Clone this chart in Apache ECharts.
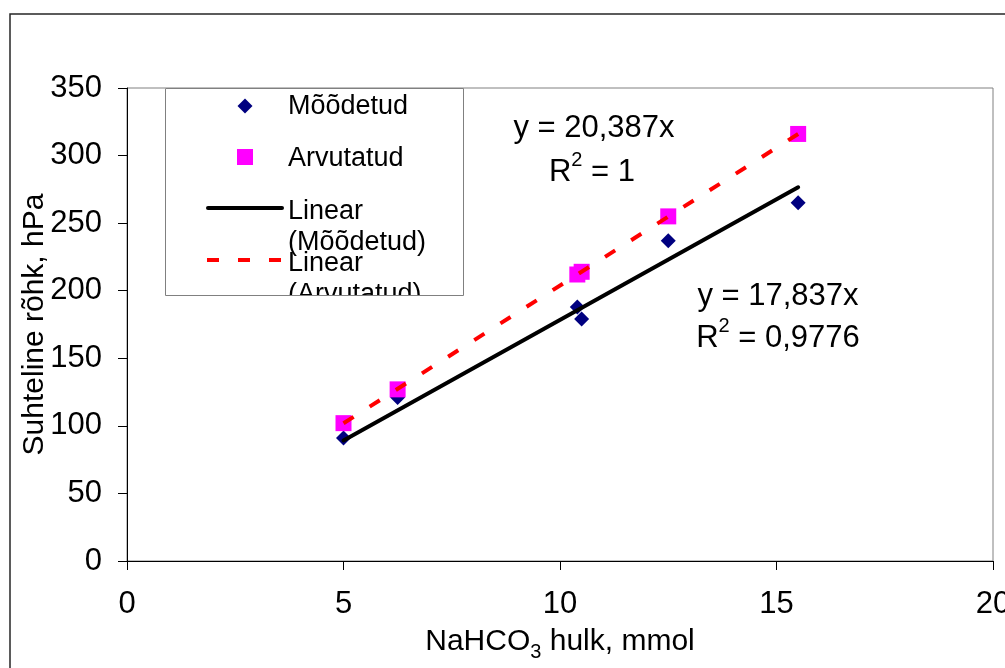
<!DOCTYPE html>
<html>
<head>
<meta charset="utf-8">
<script src="https://cdn.jsdelivr.net/npm/echarts@6/dist/echarts.min.js"></script>
<style>html,body{margin:0;padding:0;background:#fff}#c{width:1005px;height:668px}</style>
</head>
<body>
<div id="c"></div>
<script>
// ---- data ----
var xMeasured = [5, 6.25, 10.4, 10.5, 12.5, 15.5];
var yMeasured = [91, 121, 188, 179, 237, 265];
var xCalculated = [5, 6.25, 10.4, 10.5, 12.5, 15.5];
var yCalculated = [102, 127, 212, 214, 255, 316];
var trendMeasured = [[5, 89.2], [15.5, 276.5]];
var trendCalculated = [[5, 101.9], [15.5, 316.0]];
var seriesNames = ['Mõõdetud', 'Arvutatud', 'Linear (Mõõdetud)', 'Linear (Arvutatud)'];
var legendLines = [['Mõõdetud'], ['Arvutatud'], ['Linear', '(Mõõdetud)'], ['Linear', '(Arvutatud)']];
var xTicks = [0, 5, 10, 15, 20];
var yTicks = [0, 50, 100, 150, 200, 250, 300, 350];
var xTitle = ['NaHCO', '3', ' hulk, mmol'];
var yTitle = 'Suhteline rõhk, hPa';
var eqCalc = ['y = 20,387x', 'R', '2', ' = 1'];
var eqMeas = ['y = 17,837x', 'R', '2', ' = 0,9776'];

function pairs(xs, ys) { return xs.map(function (x, i) { return [x, ys[i]]; }); }

var FONT = '"Liberation Sans", Arial, sans-serif';
var chart = echarts.init(document.getElementById('c'), null, { renderer: 'canvas' });

var LX = 165, LY = 88, LW = 298, LH = 207;
var legendGraphics = [
  { type: 'rect', z: 100, shape: { x: LX, y: LY, width: LW, height: LH }, style: { fill: '#fff', stroke: null } },
  { type: 'polygon', z: 101, shape: { points: [[245, 98.5], [252.5, 106], [245, 113.5], [237.5, 106]] }, style: { fill: '#000080' } },
  { type: 'rect', z: 101, shape: { x: 237, y: 149, width: 16, height: 16 }, style: { fill: '#FF00FF' } },
  { type: 'line', z: 101, shape: { x1: 208, y1: 208, x2: 282, y2: 208 }, style: { stroke: '#000', lineWidth: 4, lineCap: 'round' } },
  { type: 'line', z: 101, shape: { x1: 207, y1: 260, x2: 283, y2: 260 }, style: { stroke: '#FF0000', lineWidth: 4, lineDash: [12, 19] } },
  { type: 'text', z: 101, style: { x: 288, y: 107, text: legendLines[0].join('\n'), font: '27px ' + FONT, fill: '#000', verticalAlign: 'middle' } },
  { type: 'text', z: 101, style: { x: 288, y: 159, text: legendLines[1].join('\n'), font: '27px ' + FONT, fill: '#000', verticalAlign: 'middle' } },
  { type: 'text', z: 101, style: { x: 288, y: 196, text: legendLines[2].join('\n'), font: '27px ' + FONT, lineHeight: 31, fill: '#000', verticalAlign: 'top' } },
  { type: 'text', z: 101, style: { x: 288, y: 248, text: legendLines[3].join('\n'), font: '27px ' + FONT, lineHeight: 31, fill: '#000', verticalAlign: 'top' } },
  { type: 'rect', z: 102, shape: { x: LX - 1, y: LY + LH + 1, width: LW + 2, height: 30 }, style: { fill: '#fff' } },
  { type: 'rect', z: 103, shape: { x: LX + 0.5, y: LY + 0.5, width: LW, height: LH }, style: { fill: null, stroke: '#808080', lineWidth: 1 } }
];

function eqText(cx, cy, parts) {
  return {
    type: 'text', z: 50,
    style: {
      x: cx, y: cy, align: 'center', verticalAlign: 'middle',
      text: '{a|' + parts[0] + '}',
      rich: { a: { fontSize: 31, fontFamily: FONT, fill: '#000' } }
    }
  };
}
function eqR2(cx, cy, parts) {
  return {
    type: 'text', z: 50,
    style: {
      x: cx, y: cy, align: 'center', verticalAlign: 'middle',
      text: '{a|' + parts[1] + '}{s|' + parts[2] + '}{a|' + parts[3] + '}',
      rich: {
        a: { fontSize: 31, lineHeight: 44, fontFamily: FONT, fill: '#000' },
        s: { fontSize: 20, lineHeight: 20, verticalAlign: 'top', fontFamily: FONT, fill: '#000' }
      }
    }
  };
}

var option = {
  animation: false,
  backgroundColor: '#fff',
  textStyle: { fontFamily: FONT, color: '#000' },
  grid: { left: 127, top: 88, width: 866, height: 473, show: true, borderColor: '#808080', borderWidth: 1, backgroundColor: 'transparent', containLabel: false, outerBoundsMode: 'none' },
  xAxis: {
    type: 'value', min: 0, max: 20, interval: 5,
    axisLine: { lineStyle: { color: '#000', width: 1 } },
    axisTick: { show: true, inside: false, length: 9, lineStyle: { color: '#000' } },
    axisLabel: { fontSize: 31, color: '#000', margin: 28, fontFamily: FONT, formatter: function (v) { return xTicks.indexOf(v) >= 0 ? String(v) : ''; } },
    splitLine: { show: false },
    name: '{a|' + xTitle[0] + '}{s|' + xTitle[1] + '}{a|' + xTitle[2] + '}',
    nameLocation: 'middle', nameGap: 61, nameMoveOverlap: false,
    nameTextStyle: {
      rich: {
        a: { fontSize: 30, lineHeight: 40, fontFamily: FONT, color: '#000' },
        s: { fontSize: 20, lineHeight: 20, verticalAlign: 'bottom', fontFamily: FONT, color: '#000' }
      }
    }
  },
  yAxis: {
    type: 'value', min: 0, max: 350, interval: 50,
    axisLine: { show: true, lineStyle: { color: '#000', width: 1 } },
    axisTick: { show: true, inside: false, length: 9, lineStyle: { color: '#000' } },
    axisLabel: { fontSize: 31, color: '#000', margin: 25, fontFamily: FONT, formatter: function (v) { return yTicks.indexOf(v) >= 0 ? String(v) : ''; } },
    splitLine: { show: false },
    name: yTitle, nameLocation: 'middle', nameGap: 77, nameRotate: 90, nameMoveOverlap: false,
    nameTextStyle: { fontSize: 30, color: '#000', fontFamily: FONT }
  },
  series: [
    { name: seriesNames[0], type: 'scatter', symbol: 'diamond', symbolSize: 15, itemStyle: { color: '#000080', opacity: 1 }, data: pairs(xMeasured, yMeasured), z: 2 },
    { name: seriesNames[1], type: 'scatter', symbol: 'rect', symbolSize: 16, itemStyle: { color: '#FF00FF', opacity: 1 }, data: pairs(xCalculated, yCalculated), z: 3 },
    { name: seriesNames[2], type: 'line', showSymbol: false, symbol: 'none', lineStyle: { color: '#000', width: 4, cap: 'round' }, data: trendMeasured, z: 4 },
    { name: seriesNames[3], type: 'line', showSymbol: false, symbol: 'none', lineStyle: { color: '#FF0000', width: 4, type: [12, 19] }, data: trendCalculated, z: 5 }
  ],
  graphic: [
    { type: 'rect', z: 200, silent: true, shape: { x: 10, y: 14, width: 1100, height: 700 }, style: { fill: null, stroke: '#262626', lineWidth: 1.5 } },
    eqText(594, 128, eqCalc), eqR2(592, 172, eqCalc),
    eqText(778, 296, eqMeas), eqR2(778, 338, eqMeas)
  ].concat(legendGraphics)
};
chart.setOption(option);
</script>
</body>
</html>
